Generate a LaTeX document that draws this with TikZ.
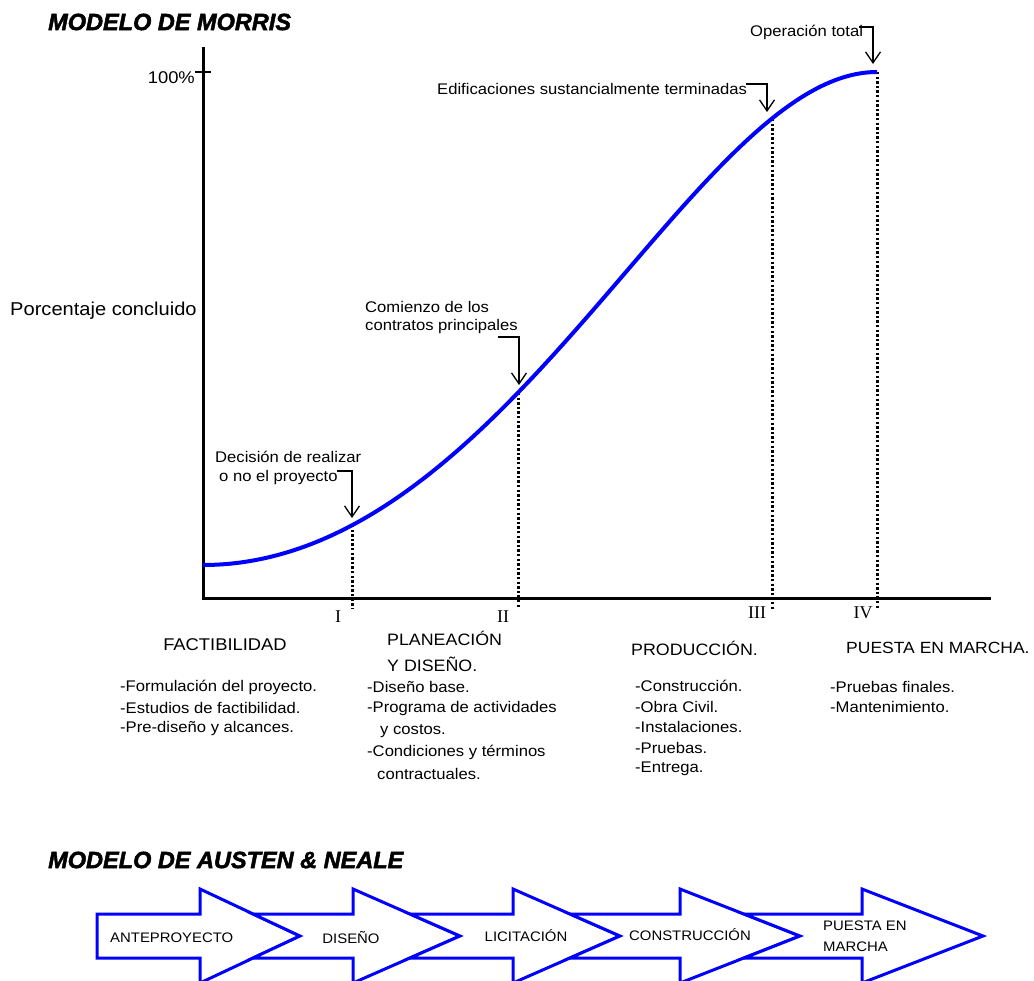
\documentclass[tikz,border=0pt]{standalone}
\usepackage{fontspec}
\setmainfont{Liberation Sans}[FakeStretch=1.08]
\newfontfamily\titlefont{Liberation Sans}[BoldItalicFeatures={FakeBold=2}]
\newfontfamily\romfont{Liberation Serif}
\usetikzlibrary{arrows.meta}
\newcommand\fsA{\fontsize{15.4pt}{18pt}\selectfont}
\newcommand\fsH{\fontsize{16.5pt}{19pt}\selectfont}
\newcommand\fsB{\fontsize{13.8pt}{16pt}\selectfont}
\tikzset{
  lbl/.style={inner sep=0pt, anchor=west, font=\fsA},
  headlbl/.style={inner sep=0pt, anchor=west, font=\fsH},
  roman/.style={inner sep=0pt, font=\romfont\fontsize{18pt}{20pt}\selectfont},
  ttl/.style={inner sep=0pt, anchor=west, font=\titlefont\bfseries\itshape\fontsize{23.5pt}{28pt}\selectfont},
  axisline/.style={line width=3pt},
  guide/.style={line width=3pt, dash pattern=on 2.4pt off 2.2pt},
  ann/.style={line width=1.3pt, -{Straight Barb[length=11pt,width=15pt]}},
  scurve/.style={blue, line width=4pt},
  blk/.style={draw=blue, line width=3pt, fill=white, line join=miter},
  blklbl/.style={inner sep=0pt, font=\fsB},
}
\begin{document}
\begin{tikzpicture}[x=1pt,y=-1pt]
\useasboundingbox (0,0) rectangle (1034,981);

% ---------- Morris model ----------
\node[ttl] (t1) at (48,22) {MODELO DE MORRIS};

\coordinate (o) at (203,598);
\coordinate (ytop) at (203,47);
\coordinate (xend) at (991,598);
\draw[axisline] (ytop) -- (o) -- (xend);
\coordinate (tk1) at (195,72);
\coordinate (tk2) at (211,72);
\draw[line width=2pt] (tk1) -- (tk2);

\node[inner sep=0pt, anchor=east, font=\fontsize{17pt}{19pt}\selectfont] (pct) at (195,78) {100\%};
\node[inner sep=0pt, anchor=west, font=\fontsize{18.6pt}{21pt}\selectfont] (ylab) at (10,311) {Porcentaje concluido};

% milestone points on the curve
\coordinate (p1) at (352,525);
\coordinate (p2) at (518,393);
\coordinate (p3) at (772,119);
\coordinate (p4) at (877,72);
\coordinate (b1) at (352,609);
\coordinate (b2) at (518,609);
\coordinate (b3) at (772,609);
\coordinate (b4) at (877,609);
\draw[guide] (p1) -- (b1);
\draw[guide] (p2) -- (b2);
\draw[guide] (p3) -- (b3);
\draw[guide] (p4) -- (b4);

\coordinate (c0) at (203,565);
\coordinate (c1) at (507,565);
\coordinate (c2) at (695,72);
\draw[scurve] (c0) .. controls (c1) and (c2) .. (p4);

% roman numerals
\node[roman] (r1) at (338,617) {I};
\node[roman] (r2) at (503,617) {II};
\node[roman] (r3) at (757,613) {III};
\node[roman] (r4) at (863,613) {IV};

% annotations
\node[lbl] (dec1) at (215,457) {Decisión de realizar};
\node[lbl] (dec2) at (219,478) {o no el proyecto};
\coordinate (a1s) at (337,471);
\coordinate (a1e) at (352,518);
\draw[ann] (a1s) -| (a1e);

\node[lbl] (com1) at (365,307) {Comienzo de los};
\node[lbl] (com2) at (365,327) {contratos principales};
\coordinate (a2s) at (498,337);
\coordinate (a2e) at (519,385);
\draw[ann] (a2s) -| (a2e);

\node[lbl] (edi) at (437,89) {Edificaciones sustancialmente terminadas};
\coordinate (a3s) at (746,84);
\coordinate (a3e) at (767,112);
\draw[ann] (a3s) -| (a3e);

\node[lbl] (ope) at (750,32) {Operación total};
\coordinate (a4s) at (859,27);
\coordinate (a4e) at (873,64);
\draw[ann] (a4s) -| (a4e);

% phases
\node[headlbl, anchor=center, font=\fontsize{17pt}{19pt}\selectfont] (fac) at (225,645) {FACTIBILIDAD};
\node[lbl] (f1) at (120,687) {-Formulación del proyecto.};
\node[lbl] (f2) at (120,708) {-Estudios de factibilidad.};
\node[lbl] (f3) at (120,729) {-Pre-diseño y alcances.};

\node[headlbl] (pla1) at (387,638) {PLANEACIÓN};
\node[headlbl] (pla2) at (387,664) {Y DISEÑO.};
\node[lbl] (d1) at (367,687) {-Diseño base.};
\node[lbl] (d2) at (367,709) {-Programa de actividades};
\node[lbl] (d3) at (380,731) {y costos.};
\node[lbl] (d4) at (367,752) {-Condiciones y términos};
\node[lbl] (d5) at (377,774) {contractuales.};

\node[headlbl] (pro) at (631,648) {PRODUCCIÓN.};
\node[lbl] (c1l) at (635,686) {-Construcción.};
\node[lbl] (c2l) at (635,707) {-Obra Civil.};
\node[lbl] (c3l) at (635,727) {-Instalaciones.};
\node[lbl] (c4l) at (635,748) {-Pruebas.};
\node[lbl] (c5l) at (635,769) {-Entrega.};

\node[headlbl, font=\fontsize{16.2pt}{19pt}\selectfont] (pue) at (846,648) {PUESTA EN MARCHA.};
\node[lbl] (m1) at (830,687) {-Pruebas finales.};
\node[lbl] (m2) at (830,707) {-Mantenimiento.};

% ---------- Austen & Neale model ----------
\node[ttl] (t2) at (48,860) {MODELO DE AUSTEN \& NEALE};

\draw[blk] (97,914) -- (200,914) -- (200,889) -- (300,936) -- (200,983) -- (200,958) -- (97,958) -- cycle;
\draw[blk] (253,914) -- (353,914) -- (353,889) -- (460,936) -- (353,983) -- (353,958) -- (253,958) -- (300,936) -- cycle;
\draw[blk] (410,914) -- (513,914) -- (513,889) -- (620,936) -- (513,983) -- (513,958) -- (410,958) -- (460,936) -- cycle;
\draw[blk] (570,914) -- (680,914) -- (680,889) -- (800,936) -- (680,983) -- (680,958) -- (570,958) -- (620,936) -- cycle;
\draw[blk] (744,914) -- (862,914) -- (862,889) -- (983,936) -- (862,983) -- (862,958) -- (744,958) -- (800,936) -- cycle;

\node[blklbl, anchor=west] (n1) at (110,938) {ANTEPROYECTO};
\node[blklbl] (n2) at (351,938) {DISEÑO};
\node[blklbl] (n3) at (526,936) {LICITACIÓN};
\node[blklbl] (n4) at (690,935) {CONSTRUCCIÓN};
\node[blklbl, anchor=west] (n5a) at (823,926) {PUESTA EN};
\node[blklbl, anchor=west] (n5b) at (823,947) {MARCHA};
\end{tikzpicture}
\end{document}
